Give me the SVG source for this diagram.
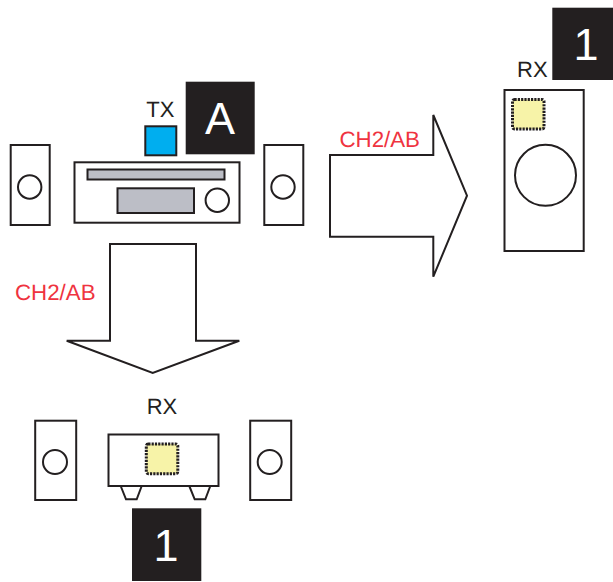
<svg xmlns="http://www.w3.org/2000/svg" width="613" height="582" viewBox="0 0 613 582">
<style>
.o{fill:#fff;stroke:#231f20;stroke-width:2}
.g{fill:#bcbec6;stroke:#231f20;stroke-width:2}
.y{fill:#f7f3a8;stroke:#231f20;stroke-width:3;stroke-dasharray:2.2 1.1}
.k{fill:#231f20}
text{font-family:"Liberation Sans",Arial,sans-serif;text-rendering:geometricPrecision}
.l{font-size:22px;fill:#231f20;text-anchor:middle}
.r{font-size:22.3px;fill:#ef3340;text-anchor:middle}
.b{font-size:45px;fill:#fff;text-anchor:middle}
</style>
<rect width="613" height="582" fill="#fff"/>
<g id="connectors">
<path class="o" d="M330 155H433.3V115L467 195.7 433.3 276.7V236.7H330Z"/>
<path class="o" d="M110 244H196V340.7H239.3L152.7 373 66.7 340.7H110Z"/>
</g>
<g id="speaker-left"><rect class="o" x="10.7" y="145" width="39" height="80"/><circle class="o" cx="29.7" cy="187" r="11.7"/></g>
<g id="speaker-right"><rect class="o" x="264.3" y="145" width="39" height="80"/><circle class="o" cx="283" cy="187" r="11.7"/></g>
<g id="receiver">
<rect class="o" x="74.5" y="162.3" width="165" height="60.4"/>
<rect class="g" x="87.5" y="169.5" width="137" height="10"/>
<rect class="g" x="117.5" y="188.3" width="76.5" height="24.7"/>
<circle class="o" cx="217.3" cy="200.3" r="11.7"/>
</g>
<g id="tx"><rect x="145.3" y="126.3" width="31" height="29" fill="#00aeef" stroke="#231f20" stroke-width="2"/><text class="l" x="160.4" y="116.7">TX</text></g>
<g id="badge-a"><rect class="k" x="185.7" y="81.7" width="69" height="72.6"/><text class="b" x="220" y="134">A</text></g>
<g id="label-ch2-right"><text class="r" x="379.7" y="146.7">CH2/AB</text></g>
<g id="label-ch2-down"><text class="r" x="55.3" y="299.7">CH2/AB</text></g>
<g id="rx-right">
<rect class="o" x="504.5" y="90" width="79.2" height="161"/>
<rect class="y" x="512.5" y="99.5" width="31.5" height="29.5" rx="2"/>
<circle class="o" cx="545.5" cy="175.3" r="30.5"/>
<text class="l" x="532.3" y="77.3">RX</text>
</g>
<g id="badge-1-right"><rect class="k" x="552.3" y="7.7" width="60.7" height="72.3"/><text class="b" x="586" y="60">1</text></g>
<g id="rx-bottom">
<path class="o" d="M120.7 486L126 499.3H136.7L141.7 486"/>
<path class="o" d="M189.3 486L194.7 499.3H205.3L210.3 486"/>
<rect class="o" x="108.5" y="434.5" width="110" height="51.5"/>
<rect class="y" x="146.3" y="444" width="31.5" height="29.7" rx="2"/>
<text class="l" x="162" y="414.3">RX</text>
</g>
<g id="speaker-bottom-left"><rect class="o" x="35.2" y="420.7" width="41" height="79.3"/><circle class="o" cx="55" cy="462" r="12"/></g>
<g id="speaker-bottom-right"><rect class="o" x="250.2" y="420.7" width="41" height="79.3"/><circle class="o" cx="269.7" cy="462" r="12"/></g>
<g id="badge-1-bottom"><rect class="k" x="132" y="508.3" width="69.3" height="72.7"/><text class="b" x="166" y="561">1</text></g>
</svg>
